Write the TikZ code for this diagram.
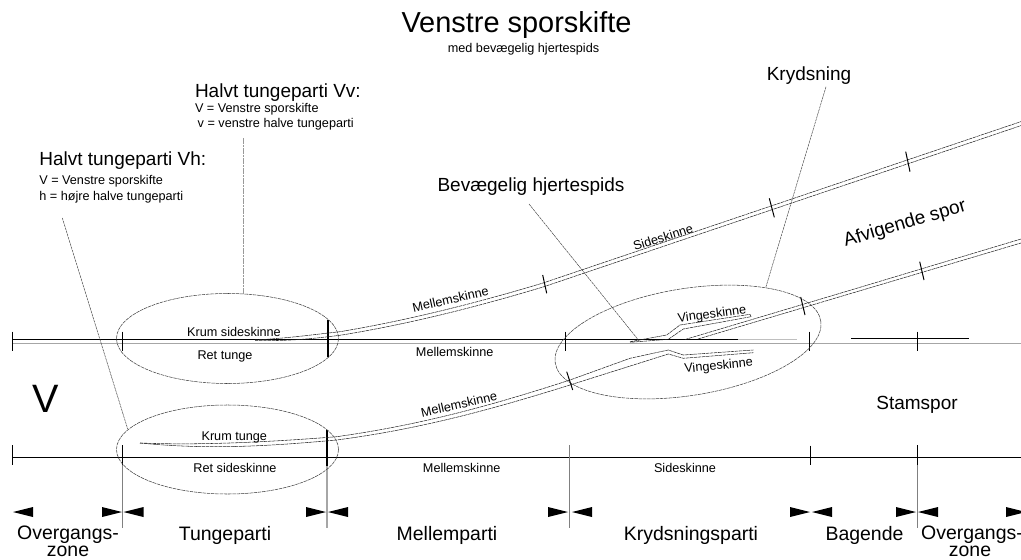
\documentclass[tikz,border=0pt]{standalone}
\usepackage{fontspec}
\setmainfont{Liberation Sans}
\newcommand\fpx[1]{\fontsize{#1}{#1}\selectfont}
\newcommand\tipL[2]{\fill[black] (#1,#2) -- (#1+20,#2-5) -- (#1+20,#2+5) -- cycle;}
\newcommand\tipR[2]{\fill[black] (#1,#2) -- (#1-20,#2-5) -- (#1-20,#2+5) -- cycle;}
\tikzset{
  txt/.style={inner sep=0pt,outer sep=0pt,align=center},
  small/.style={txt,font=\fpx{9.5},yshift=-1pt},
  big/.style={txt,font=\fpx{14.25},yshift=-1.8pt},
  section/.style={txt,font=\fpx{14.6},yshift=-1.5pt},
  rail/.style={line width=.4pt,black!85,dash pattern=on 2.6pt off .5pt},
  mainrail/.style={line width=.75pt,black},
  greyrail/.style={line width=.75pt,black!35},
  tick/.style={line width=.75pt,black},
  thicktick/.style={line width=1.2pt,black},
  ext/.style={line width=.75pt,black!50},
  leader/.style={line width=.35pt,black!75,dash pattern=on 2pt off .5pt},
  oval/.style={line width=.4pt,black!75,dash pattern=on 2.6pt off .6pt},
}
\begin{document}
\begin{tikzpicture}[x=.75pt,y=-.75pt]
\useasboundingbox (0,0) rectangle (1021,560);
\begin{scope}
\clip (0,0) rectangle (1021,560);
% main rails
\draw[greyrail] (12,343.5) -- (1021,343.5);
\draw[black!25,line width=.6pt] (738,339) -- (797,339);
\draw[mainrail] (12,339) -- (738,339);
\draw[mainrail] (851,338.5) -- (969,338.5);
\draw[mainrail] (12,457.3) -- (1021,457.3);
% ticks top
\draw[tick] (12,331.7) -- (12,351);
\draw[tick] (122.3,331.7) -- (122.3,351);
\draw[thicktick] (328,320) -- (328,357);
\draw[tick] (565,331.7) -- (565,351);
\draw[tick] (809,331.7) -- (809,351);
\draw[tick] (917.7,331.7) -- (917.7,351);
% ticks bottom and extension lines
\draw[ext] (122.3,465) -- (122.3,528);
\draw[ext,black!35,line width=1.2pt] (326.7,466) -- (326.7,528);
\draw[ext] (569.7,445) -- (569.7,528);
\draw[ext] (917,465) -- (917,528);
\draw[tick] (12,445) -- (12,465);
\draw[tick] (122.3,445) -- (122.3,465);
\draw[thicktick] (326.7,430) -- (326.7,466);
\draw[tick] (810.3,445.7) -- (810.3,465);
\draw[tick] (917,445) -- (917,465);
% upper diverging track
\draw[rail] (255,340) .. controls (290,338) and (310,335) .. (340,331.7) .. controls (410,320) and (480,302) .. (543,283) -- (1021,121.6);
\draw[rail] (255,340.6) .. controls (290,341) and (310,339) .. (340,335.3) .. controls (410,324) and (480,306) .. (543,287) -- (1021,125.6);
\draw[tick] (542.7,275) -- (546.7,293.3);
\draw[tick] (769.3,198.3) -- (774.3,217.3);
\draw[tick] (905.7,151.7) -- (910,171.7);
% lower diverging track with lower wing rail
\draw[rail] (140,443) .. controls (200,445.5) and (270,442) .. (336.7,436.7) .. controls (420,425) and (490,406) .. (570,380) -- (630,358.3) -- (668.3,350) -- (683.3,355) -- (753.3,350);
\draw[rail] (140,443) .. controls (210,450) and (270,446) .. (336.7,440) .. controls (420,429) and (490,410) .. (570,385) -- (668.3,354) -- (683.3,358.3) -- (753.3,352.7);
\draw[tick] (566.7,371.7) -- (572.7,390);
% upper wing rail
\draw[rail] (630,341.7) -- (666.7,335) -- (680,325) -- (750,314.3) -- (751,316.7) -- (683.3,329) -- (668.3,339.3) -- (630,342.3);
% crossing track
\draw[rail] (685,339.5) -- (840,293.3) -- (1021,239);
\draw[rail] (698,339) -- (840,296.7) -- (1021,243);
\draw[tick] (800.7,297) -- (805,315);
\draw[tick] (919.7,261.7) -- (924,280);
% ovals
\draw[oval] (227.5,338.5) ellipse [x radius=111,y radius=45];
\draw[oval] (227.5,449.5) ellipse [x radius=111,y radius=44.5];
\draw[oval,rotate around={9:(688,342)}] (688,342) ellipse [x radius=134.4,y radius=53.5];
% dimension tips
\tipL{13}{512}\tipR{122}{512}\tipL{123.5}{512}\tipR{326}{512}\tipL{328}{512}
\tipR{568}{512}\tipL{572}{512}\tipR{810}{512}\tipL{812}{512}\tipR{916}{512}\tipL{918}{512}\tipR{1026}{512}
\end{scope}
% texts
\node[txt,font=\fpx{21.7},yshift=-1.5pt] (title) at (516.5,23) {Venstre sporskifte};
\node[txt,font=\fpx{9.5},yshift=-1pt] (sub) at (523.5,47.7) {med bevægelig hjertespids};
\node[big,anchor=west] (vv) at (195,90) {Halvt tungeparti Vv:};
\node[small,anchor=west] (vv1) at (195,108) {V = Venstre sporskifte};
\node[small,anchor=west] (vv2) at (197.7,123.3) {v = venstre halve tungeparti};
\node[big,anchor=west] (vh) at (39.3,158) {Halvt tungeparti Vh:};
\node[small,anchor=west] (vh1) at (39.3,180) {V = Venstre sporskifte};
\node[small,anchor=west] (vh2) at (39.3,196) {h = højre halve tungeparti};
\node[big] (kryds) at (809,73) {Krydsning};
\node[big] (bev) at (531,184) {Bevægelig hjertespids};
\node[txt,font=\fpx{29.7}] (V) at (46,399) {V};
\node[big] (stam) at (917,402) {Stamspor};
\node[big,rotate=16.5] (afv) at (905,221.5) {Afvigende spor};
\node[small] (krs) at (234,330.7) {Krum sideskinne};
\node[small] (rt) at (225,355) {Ret tunge};
\node[small] (m1) at (454.7,351) {Mellemskinne};
\node[small,rotate=12.5] (m2) at (450.5,298) {Mellemskinne};
\node[small,rotate=17.4] (s2) at (663,236) {Sideskinne};
\node[small,rotate=7.5] (v1) at (712,313.3) {Vingeskinne};
\node[small,rotate=5.6] (v2) at (718.7,365) {Vingeskinne};
\node[small,rotate=12.5] (m3) at (459,403) {Mellemskinne};
\node[small] (kt) at (234.3,435.7) {Krum tunge};
\node[small] (rs) at (235,466.7) {Ret sideskinne};
\node[small] (m4) at (461.7,466.7) {Mellemskinne};
\node[small] (s1) at (685,466.7) {Sideskinne};
\node[section] (o1) at (68,533) {Overgangs-};
\node[section] (o1b) at (68,549.5) {zone};
\node[section] (tp) at (225,533) {Tungeparti};
\node[section] (mp) at (447,533) {Mellemparti};
\node[section] (kp) at (691,533) {Krydsningsparti};
\node[section] (bg) at (864.5,533) {Bagende};
\node[section] (o2) at (972,533) {Overgangs-};
\node[section] (o2b) at (970,549.5) {zone};
% leaders
\coordinate (lvv) at (243,138);
\coordinate (lvve) at (243,294);
\coordinate (lvh) at (62.3,218);
\coordinate (lvhe) at (127.7,429);
\coordinate (lkr) at (826,86.7);
\coordinate (lkre) at (765.7,287.7);
\coordinate (lbv) at (529,204);
\coordinate (lbve) at (640,342);
\draw[leader,black!40] (lvv) -- (lvve);
\draw[leader] (lvh) -- (lvhe);
\draw[leader] (lkr) -- (lkre);
\draw[leader] (lbv) -- (lbve);
\end{tikzpicture}
\end{document}
